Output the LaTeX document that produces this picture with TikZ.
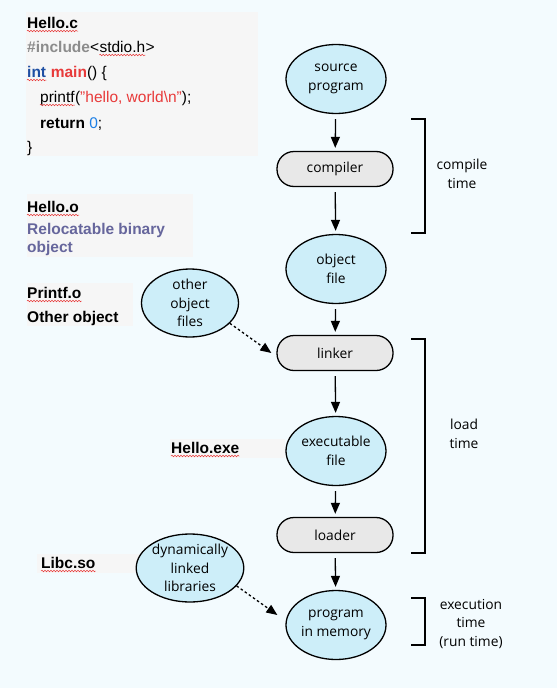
\documentclass[tikz,border=0pt]{standalone}
\usepackage{fontspec}
\setmainfont{Liberation Sans}
\newfontfamily\labelfont{Open Sans}
\usetikzlibrary{arrows.meta, shapes.geometric, decorations.pathmorphing}
\definecolor{bgblue}{HTML}{F3FBFE}
\definecolor{panelgray}{HTML}{F6F6F6}
\definecolor{ellblue}{HTML}{CDEEF9}
\definecolor{boxgray}{HTML}{E8E8E8}
\definecolor{kwgray}{HTML}{8C8C8C}
\definecolor{kwblue}{HTML}{1F4FA3}
\definecolor{numblue}{HTML}{1C7FE6}
\definecolor{codered}{HTML}{E83A3A}
\definecolor{objpurple}{HTML}{66669C}

\begin{document}
\begin{tikzpicture}[x=1pt, y=-1pt,
  ell/.style={draw, ellipse, line width=1.3pt, fill=ellblue, minimum width=100pt,
    minimum height=69pt, inner sep=0pt, align=center,
    font=\labelfont\fontsize{13.8}{18.5}\selectfont},
  proc/.style={draw, line width=1.3pt, rounded corners=17pt, fill=boxgray,
    minimum width=116pt, minimum height=35pt,
    font=\labelfont\fontsize{13.8}{18.5}\selectfont},
  arr/.style={-{Triangle[length=11pt, width=9pt]}, line width=1.3pt,
    shorten <=5pt, shorten >=3pt},
  dotarr/.style={-{Triangle[length=11pt, width=9pt]}, line width=1.3pt,
    dash pattern=on 2.5pt off 2.5pt},
  code/.style={anchor=base west, inner sep=0pt, font=\fontsize{15.5}{18}\selectfont},
  squig/.style={codered, line width=0.5pt, decorate,
    decoration={snake, amplitude=0.8pt, segment length=3pt}},
  panel/.style={fill=panelgray},
  lbl/.style={align=center, inner sep=0pt,
    font=\labelfont\fontsize{13.8}{18.5}\selectfont},
  brk/.style={line width=1.5pt}
]
  \useasboundingbox (0,0) rectangle (557,688);
  \fill[bgblue] (0,0) rectangle (557,688);

  % Source code panels
  \fill[panel] (26,12) rectangle (258,156);
  \fill[panel] (27,194) rectangle (193,257);
  \fill[panel] (27,283) rectangle (133,326);
  \fill[panel] (170,439) rectangle (285,458);
  \fill[panel] (37,554) rectangle (150,573);

  % Hello.c
  \node[code] (hc) at (27,28) {\textbf{Hello.c}};
  \node[code] (inc) at (27,52) {\textcolor{kwgray}{\textbf{\#include}}<};
  \node[code] (stdio) at (inc.base east) {stdio.h};
  \node[code] (gt) at (stdio.base east) {>};
  \node[code] (int) at (27,77) {\textcolor{kwblue}{\textbf{int}}};
  \node[code] (mn) at (int.base east) {\ \textcolor{codered}{\textbf{main}}() \{};
  \node[code] (pf) at (40,102) {printf};
  \node[code] (pfarg) at (pf.base east) {(\textcolor{codered}{"hello, world\textbackslash n"});};
  \node[code] (ret) at (40,128) {\textbf{return} \textcolor{numblue}{0};};
  \node[code] (rb) at (27,152) {\}};

  % Object files
  \node[code] (ho) at (27,212) {\textbf{Hello.o}};
  \node[code] (rel) at (27,234) {\textcolor{objpurple}{\textbf{Relocatable binary}}};
  \node[code] (relo) at (27,252) {\textcolor{objpurple}{\textbf{object}}};
  \node[code] (pfo) at (27,298) {\textbf{Printf.o}};
  \node[code] (oth) at (27,322) {\textbf{Other object}};
  \node[code] (hexe) at (171,453) {\textbf{Hello.exe}};
  \node[code] (libc) at (41,568) {\textbf{Libc.so}};

  % Spell-check underlines
  \foreach \w in {hc, stdio, int, pf, ho, pfo, hexe, libc}
    \draw[squig] ([yshift=-3pt]\w.base west) -- ([yshift=-3pt]\w.base east);

  % Main flow
  \node[ell]  (src)  at (336,79)  {source\\program};
  \node[proc] (comp) at (335,169) {compiler};
  \node[ell]  (obj)  at (336,269) {object\\file};
  \node[proc] (lnk)  at (335,353) {linker};
  \node[ell]  (exe)  at (336,451) {executable\\file};
  \node[proc] (ldr)  at (335,535) {loader};
  \node[ell]  (prog) at (336,625) {program\\in memory};

  \node[ell, minimum width=97pt, minimum height=68pt] (oof) at (190,303) {other\\object\\files};
  \node[ell, minimum height=68pt] (dll) at (190,568) {dynamically\\linked\\libraries};

  \draw[arr] (src) -- (comp);
  \draw[arr] (comp) -- (obj);
  \draw[arr] (obj) -- (lnk);
  \draw[arr] (lnk) -- (exe);
  \draw[arr] (exe) -- (ldr);
  \draw[arr] (ldr) -- (prog);

  \draw[dotarr] (oof.-27) -- ([xshift=-5pt]lnk.west);
  \draw[dotarr] (dll.-21) -- ([xshift=-8pt, yshift=10pt]prog.west);

  % Time brackets
  \draw[brk] (411,119) -- (425,119) -- (425,233) -- (411,233);
  \draw[brk] (411,339) -- (425,339) -- (425,553) -- (411,553);
  \draw[brk] (411,598) -- (425,598) -- (425,645) -- (411,645);

  \node[lbl] (ct) at (462,174) {compile\\time};
  \node[lbl] (lt) at (464,434) {load\\time};
  \node[lbl] (et) at (471,624) {execution\\time\\(run time)};
\end{tikzpicture}
\end{document}
